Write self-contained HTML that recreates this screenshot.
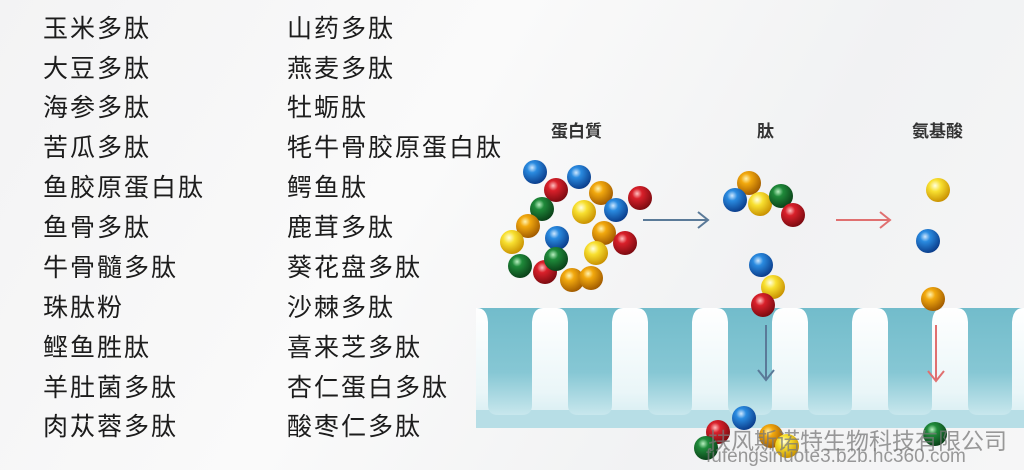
<!DOCTYPE html>
<html><head><meta charset="utf-8"><style>
*{margin:0;padding:0}
body{width:1024px;height:470px;overflow:hidden;position:relative;background:linear-gradient(120deg,#f3f3f4 0%,#fafafa 40%,#f1f2f3 70%,#f6f6f7 100%);font-family:"Liberation Sans","Noto Sans CJK SC",sans-serif}
.t{position:absolute;font-size:25px;letter-spacing:2px;color:#1c1c1c;line-height:30px;white-space:nowrap}
.lb{position:absolute;font-size:17px;font-weight:bold;color:#333;white-space:nowrap}
.wm{position:absolute;color:rgba(120,120,120,0.75);white-space:nowrap}
</style></head><body>
<div class="t" style="left:43px;top:14px">玉米多肽</div>
<div class="t" style="left:43px;top:54px">大豆多肽</div>
<div class="t" style="left:43px;top:93px">海参多肽</div>
<div class="t" style="left:43px;top:133px">苦瓜多肽</div>
<div class="t" style="left:43px;top:173px">鱼胶原蛋白肽</div>
<div class="t" style="left:43px;top:213px">鱼骨多肽</div>
<div class="t" style="left:43px;top:253px">牛骨髓多肽</div>
<div class="t" style="left:43px;top:293px">珠肽粉</div>
<div class="t" style="left:43px;top:333px">鲣鱼胜肽</div>
<div class="t" style="left:43px;top:373px">羊肚菌多肽</div>
<div class="t" style="left:43px;top:412px">肉苁蓉多肽</div>
<div class="t" style="left:287px;top:14px">山药多肽</div>
<div class="t" style="left:287px;top:54px">燕麦多肽</div>
<div class="t" style="left:287px;top:93px">牡蛎肽</div>
<div class="t" style="left:287px;top:133px">牦牛骨胶原蛋白肽</div>
<div class="t" style="left:287px;top:173px">鳄鱼肽</div>
<div class="t" style="left:287px;top:213px">鹿茸多肽</div>
<div class="t" style="left:287px;top:253px">葵花盘多肽</div>
<div class="t" style="left:287px;top:293px">沙棘多肽</div>
<div class="t" style="left:287px;top:333px">喜来芝多肽</div>
<div class="t" style="left:287px;top:373px">杏仁蛋白多肽</div>
<div class="t" style="left:287px;top:412px">酸枣仁多肽</div>

<svg style="position:absolute;left:0;top:0" width="1024" height="470">
<defs>
<linearGradient id="col" x1="0" y1="0" x2="0" y2="1">
<stop offset="0" stop-color="#72bccb"/><stop offset="0.6" stop-color="#86c7d4"/><stop offset="1" stop-color="#c8e7ed"/></linearGradient>
<linearGradient id="bg" x1="0" y1="0" x2="0" y2="1">
<stop offset="0" stop-color="#ffffff"/><stop offset="0.7" stop-color="#eaf6f8"/><stop offset="1" stop-color="#cfeaf0"/></linearGradient>
<radialGradient id="gb" cx="0.38" cy="0.32" r="0.7"><stop offset="0" stop-color="#cfe8ff"/><stop offset="0.3" stop-color="#2a8be0"/><stop offset="1" stop-color="#0a3c8a"/></radialGradient>
<radialGradient id="gr" cx="0.38" cy="0.32" r="0.7"><stop offset="0" stop-color="#ffc0c0"/><stop offset="0.3" stop-color="#d9202a"/><stop offset="1" stop-color="#7a0a10"/></radialGradient>
<radialGradient id="gg" cx="0.38" cy="0.32" r="0.7"><stop offset="0" stop-color="#b8f0c0"/><stop offset="0.3" stop-color="#1f8a3a"/><stop offset="1" stop-color="#0a4018"/></radialGradient>
<radialGradient id="go" cx="0.38" cy="0.32" r="0.7"><stop offset="0" stop-color="#fff2b0"/><stop offset="0.3" stop-color="#f2a90e"/><stop offset="1" stop-color="#a05a00"/></radialGradient>
<radialGradient id="gy" cx="0.38" cy="0.32" r="0.7"><stop offset="0" stop-color="#ffffe0"/><stop offset="0.35" stop-color="#f8e030"/><stop offset="1" stop-color="#c89000"/></radialGradient>
<g id="c"><path d="M0 308H66Q56 308 55 322V405Q55 415 45 415H21Q11 415 11 405V322Q10 308 0 308Z" fill="url(#col)"/></g>
</defs>
<rect x="476" y="308" width="548" height="120" fill="url(#bg)"/>
<rect x="476" y="410" width="548" height="18" fill="#b7dee6"/>
<use href="#c" x="477"/><use href="#c" x="557"/><use href="#c" x="637"/><use href="#c" x="717"/>
<use href="#c" x="797"/><use href="#c" x="877"/><use href="#c" x="957"/><use href="#c" x="1037"/>
<g stroke="#5a7a98" stroke-width="2" fill="none">
<path d="M643 220H708M698 212l10 8-10 8"/>
<path d="M766 325V380M758 370l8 10 8-10"/>
</g>
<g stroke="#e07070" stroke-width="2" fill="none">
<path d="M836 220H890M880 212l10 8-10 8"/>
<path d="M936 325V381M928 371l8 10 8-10"/>
</g>
<g>
<circle cx="535" cy="172" r="12" fill="url(#gb)"/>
<circle cx="579" cy="177" r="12" fill="url(#gb)"/>
<circle cx="556" cy="190" r="12" fill="url(#gr)"/>
<circle cx="601" cy="193" r="12" fill="url(#go)"/>
<circle cx="640" cy="198" r="12" fill="url(#gr)"/>
<circle cx="542" cy="209" r="12" fill="url(#gg)"/>
<circle cx="584" cy="212" r="12" fill="url(#gy)"/>
<circle cx="616" cy="210" r="12" fill="url(#gb)"/>
<circle cx="528" cy="226" r="12" fill="url(#go)"/>
<circle cx="512" cy="242" r="12" fill="url(#gy)"/>
<circle cx="604" cy="233" r="12" fill="url(#go)"/>
<circle cx="625" cy="243" r="12" fill="url(#gr)"/>
<circle cx="557" cy="238" r="12" fill="url(#gb)"/>
<circle cx="596" cy="253" r="12" fill="url(#gy)"/>
<circle cx="520" cy="266" r="12" fill="url(#gg)"/>
<circle cx="545" cy="272" r="12" fill="url(#gr)"/>
<circle cx="556" cy="259" r="12" fill="url(#gg)"/>
<circle cx="572" cy="280" r="12" fill="url(#go)"/>
<circle cx="591" cy="278" r="12" fill="url(#go)"/>
<circle cx="749" cy="183" r="12" fill="url(#go)"/>
<circle cx="735" cy="200" r="12" fill="url(#gb)"/>
<circle cx="760" cy="204" r="12" fill="url(#gy)"/>
<circle cx="781" cy="196" r="12" fill="url(#gg)"/>
<circle cx="793" cy="215" r="12" fill="url(#gr)"/>
<circle cx="761" cy="265" r="12" fill="url(#gb)"/>
<circle cx="773" cy="287" r="12" fill="url(#gy)"/>
<circle cx="763" cy="305" r="12" fill="url(#gr)"/>
<circle cx="938" cy="190" r="12" fill="url(#gy)"/>
<circle cx="928" cy="241" r="12" fill="url(#gb)"/>
<circle cx="933" cy="299" r="12" fill="url(#go)"/>
<circle cx="744" cy="418" r="12" fill="url(#gb)"/>
<circle cx="718" cy="432" r="12" fill="url(#gr)"/>
<circle cx="706" cy="448" r="12" fill="url(#gg)"/>
<circle cx="771" cy="436" r="12" fill="url(#go)"/>
<circle cx="787" cy="446" r="12" fill="url(#gy)"/>
<circle cx="935" cy="434" r="12" fill="url(#gg)"/>
</g>
</svg>
<div class="lb" style="left:551px;top:117px">蛋白質</div>
<div class="lb" style="left:757px;top:117px">肽</div>
<div class="lb" style="left:912px;top:117px">氨基酸</div>
<div class="wm" style="left:708px;top:422px;font-size:23px">扶风斯诺特生物科技有限公司</div>
<div class="wm" style="left:706px;top:446px;font-size:19px">fufengsinuote3.b2b.hc360.com</div>
</body></html>
